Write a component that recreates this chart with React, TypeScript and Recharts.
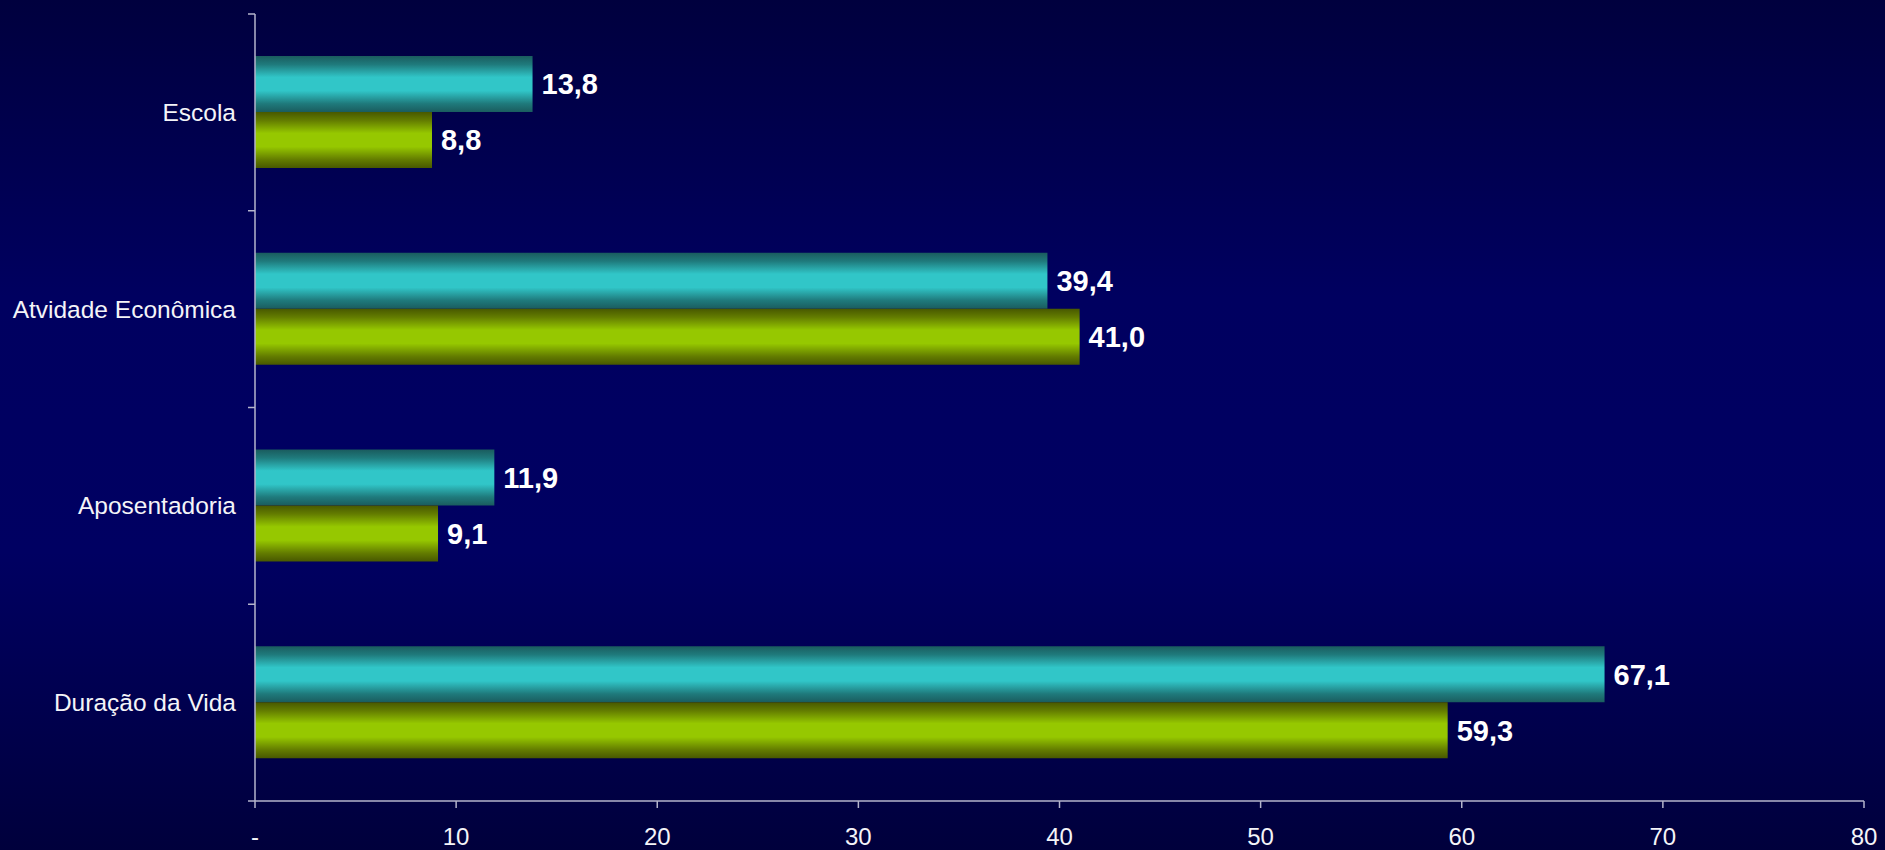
import { BarChart, Bar, XAxis, YAxis, LabelList } from "recharts"

const categories = ["Escola", "Atvidade Econômica", "Aposentadoria", "Duração da Vida"]
const serie1 = [13.8, 39.4, 11.9, 67.1]
const serie2 = [8.8, 41.0, 9.1, 59.3]
const xTicks = [0, 10, 20, 30, 40, 50, 60, 70, 80]

const data = categories.map((name, i) => ({ name, serie1: serie1[i], serie2: serie2[i] }))

const W = 1885
const H = 850
const TOP = 14
const BOTTOM = 801
const BAND = (BOTTOM - TOP) / categories.length
const AXIS = "#b4b4cc"
const FONT = "'Liberation Sans', Arial, sans-serif"

const fmt = (v: number) => v.toFixed(1).replace(".", ",")

const CategoryTick = (props: any) => {
  const { x, y, payload, index } = props
  const top = y - BAND / 2
  return (
    <g>
      <line x1={x + 1} x2={x + 8} y1={top} y2={top} stroke={AXIS} strokeWidth={1.5} />
      {index === categories.length - 1 && (
        <line x1={x + 1} x2={x + 8} y1={y + BAND / 2} y2={y + BAND / 2} stroke={AXIS} strokeWidth={1.5} />
      )}
      <text x={x - 11} y={y} dy="0.35em" textAnchor="end" fill="#f4f4f8" fontSize={24.5} fontFamily={FONT}>
        {payload.value}
      </text>
    </g>
  )
}

const App = () => {
  return (
    <div
      style={{
        position: "absolute",
        left: 0,
        top: 0,
        width: W,
        height: H,
        background: "linear-gradient(to bottom, #00003e 0%, #000060 35%, #000062 65%, #00003c 100%)",
      }}
    >
      <BarChart
        width={W}
        height={H}
        data={data}
        layout="vertical"
        margin={{ top: TOP, right: 21, bottom: 0, left: 0 }}
        barGap={0}
      >
        <defs>
          <linearGradient id="cyanGrad" x1="0" y1="0" x2="0" y2="1">
            <stop offset="0%" stopColor="#1a5c5e" />
            <stop offset="15%" stopColor="#1f7a7c" />
            <stop offset="38%" stopColor="#31c6c8" />
            <stop offset="62%" stopColor="#31c6c8" />
            <stop offset="85%" stopColor="#1f7a7c" />
            <stop offset="100%" stopColor="#1a5c5e" />
          </linearGradient>
          <linearGradient id="greenGrad" x1="0" y1="0" x2="0" y2="1">
            <stop offset="0%" stopColor="#485800" />
            <stop offset="15%" stopColor="#637c00" />
            <stop offset="38%" stopColor="#96c800" />
            <stop offset="62%" stopColor="#96c800" />
            <stop offset="85%" stopColor="#637c00" />
            <stop offset="100%" stopColor="#485800" />
          </linearGradient>
        </defs>
        <XAxis
          type="number"
          domain={[0, 80]}
          ticks={xTicks}
          height={49}
          tickSize={7}
          tickMargin={20}
          axisLine={{ stroke: AXIS, strokeWidth: 1.5 }}
          tickLine={{ stroke: AXIS, strokeWidth: 1.5 }}
          tick={{ fill: "#f4f4f8", fontSize: 24, fontFamily: FONT }}
          tickFormatter={(v: number) => (v === 0 ? "-" : String(v))}
          interval={0}
        />
        <YAxis
          type="category"
          dataKey="name"
          width={255}
          axisLine={{ stroke: AXIS, strokeWidth: 1.5 }}
          tickLine={false}
          tick={<CategoryTick />}
          interval={0}
        />
        <Bar dataKey="serie1" fill="url(#cyanGrad)" barSize={56} isAnimationActive={false}>
          <LabelList
            dataKey="serie1"
            position="right"
            offset={9}
            formatter={(v: any) => fmt(Number(v))}
            style={{ fill: "#ffffff", fontSize: 29, fontWeight: "bold", fontFamily: FONT }}
          />
        </Bar>
        <Bar dataKey="serie2" fill="url(#greenGrad)" barSize={56} isAnimationActive={false}>
          <LabelList
            dataKey="serie2"
            position="right"
            offset={9}
            formatter={(v: any) => fmt(Number(v))}
            style={{ fill: "#ffffff", fontSize: 29, fontWeight: "bold", fontFamily: FONT }}
          />
        </Bar>
      </BarChart>
    </div>
  )
}

export default App
